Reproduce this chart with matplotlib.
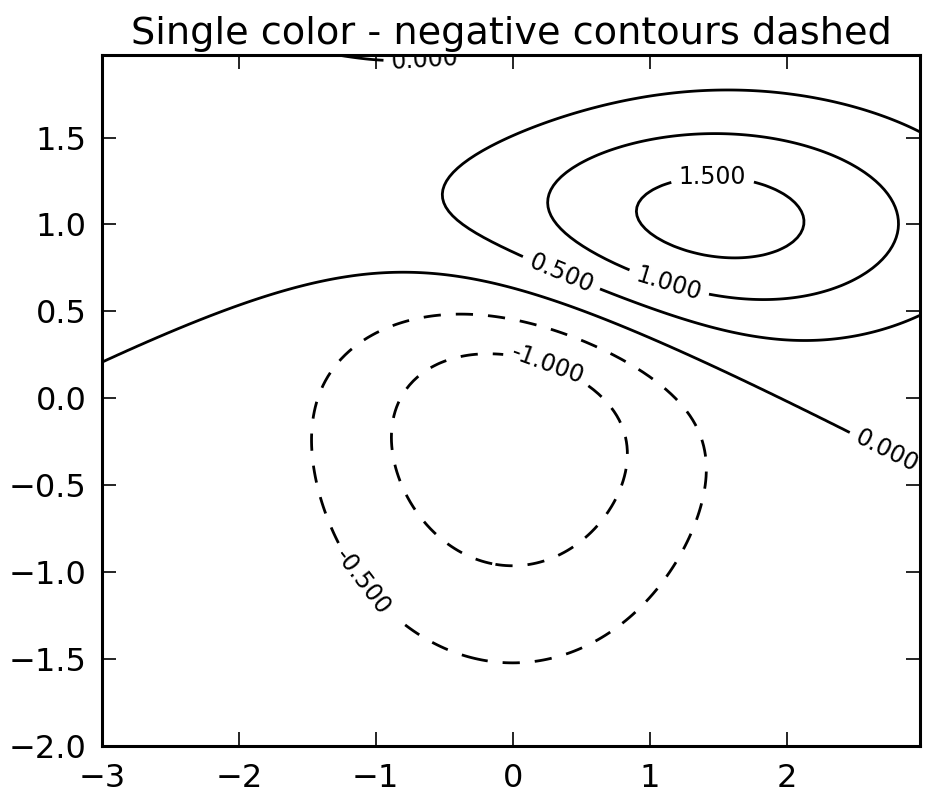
import numpy as np
import matplotlib
matplotlib.use("Agg")
import matplotlib.pyplot as plt

# Field definition (classic contour demo): Z = scale * (G2 - G1)
grid_step = 0.025
x_range = [-3.0, 3.0]
y_range = [-2.0, 2.0]
g1_sigma = [1.0, 1.0]
g1_center = [0.0, 0.0]
g2_sigma = [1.5, 0.5]
g2_center = [1.0, 1.0]
scale = 10.0
levels = [-1.0, -0.5, 0.0, 0.5, 1.0, 1.5]
# approximate label locations (data coords)
label_positions = [(-0.64, 1.95), (1.46, 1.29), (0.36, 0.73), (1.14, 0.66),
                   (0.25, 0.18), (2.73, -0.31), (-1.10, -1.06)]
x_ticks = [-3, -2, -1, 0, 1, 2]
y_ticks = [-2.0, -1.5, -1.0, -0.5, 0.0, 0.5, 1.0, 1.5]
title = "Single color - negative contours dashed"


def bivariate_normal(X, Y, sx, sy, mx, my):
    Xm = X - mx
    Ym = Y - my
    z = Xm**2 / sx**2 + Ym**2 / sy**2
    return np.exp(-z / 2) / (2 * np.pi * sx * sy)


x = np.arange(x_range[0], x_range[1], grid_step)
y = np.arange(y_range[0], y_range[1], grid_step)
X, Y = np.meshgrid(x, y)
Z1 = bivariate_normal(X, Y, g1_sigma[0], g1_sigma[1], g1_center[0], g1_center[1])
Z2 = bivariate_normal(X, Y, g2_sigma[0], g2_sigma[1], g2_center[0], g2_center[1])
Z = scale * (Z2 - Z1)

plt.rcParams['font.family'] = ['DejaVu Sans']
fig = plt.figure(figsize=(9.25, 8.01), dpi=100)
ax = fig.add_axes([102 / 925, 55 / 801, 818 / 925, 691 / 801])

cs = ax.contour(X, Y, Z, levels=levels, colors='k', linewidths=2.0,
                negative_linestyles=(0, (6.2, 5.4)))
texts = ax.clabel(cs, inline=True, fontsize=17, fmt='%1.3f',
                  manual=label_positions, inline_spacing=8)
for t in cs.labelTexts:
    t.set_clip_on(True)
    t.set_clip_path(ax.patch)

ax.set_xlim(x[0], x[-1])
ax.set_ylim(y[0], y[-1])
ax.set_xticks(x_ticks)
ax.set_yticks(y_ticks)
ax.tick_params(direction='in', top=True, right=True, length=10, width=1.2,
               labelsize=23)
ax.tick_params(axis='x', pad=12.5)
ax.tick_params(axis='y', pad=11)
for s in ax.spines.values():
    s.set_linewidth(2.2)
ax.set_title(title, fontsize=27.5, pad=8)

fig.savefig("out.png", dpi=100)
